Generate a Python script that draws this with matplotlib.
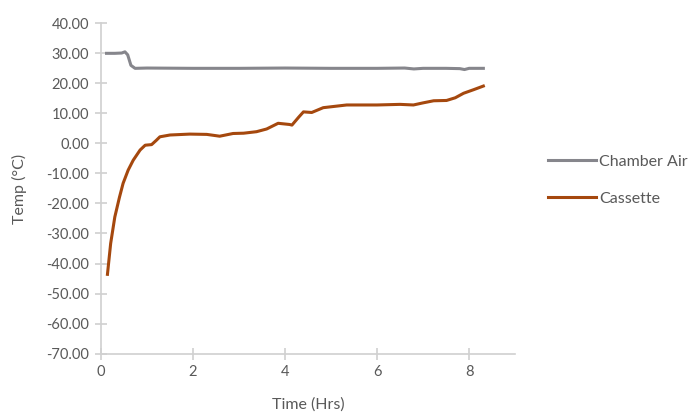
import matplotlib.pyplot as plt
import numpy as np

plt.rcParams['font.family'] = ['Lato', 'DejaVu Sans']

t_air = [0.12, 0.3, 0.45, 0.52, 0.58, 0.65, 0.74, 1.0, 2, 3, 4, 5, 6, 6.6, 6.8, 7.0, 7.5, 7.8, 7.9, 8.0, 8.31]
air = [30.0, 30.0, 30.1, 30.5, 29.5, 26.0, 25.0, 25.1, 25.0, 25.0, 25.1, 25.0, 25.0, 25.1, 24.8, 25.0, 25.0, 24.9, 24.6, 25.0, 25.0]

t_cas = [0.14, 0.21, 0.30, 0.40, 0.48, 0.59, 0.70, 0.85, 0.96, 1.1, 1.2, 1.28, 1.5, 1.93, 2.3, 2.58,
         2.87, 3.1, 3.38, 3.6, 3.85, 4.1, 4.15, 4.3, 4.4, 4.58, 4.83, 5.34, 6.0, 6.5, 6.79, 7.0,
         7.23, 7.51, 7.7, 7.88, 8.1, 8.31]
cas = [-43.6, -33.3, -24.5, -18, -13.3, -8.9, -5.6, -2.2, -0.6, -0.4, 1.0, 2.2, 2.8, 3.1, 3.0, 2.4,
       3.3, 3.4, 3.9, 4.8, 6.7, 6.3, 6.1, 8.8, 10.5, 10.3, 11.9, 12.8, 12.8, 13.0, 12.8, 13.5,
       14.2, 14.3, 15.2, 16.7, 17.9, 19.1]

fig = plt.figure(figsize=(6.89, 4.16), dpi=100)
ax = fig.add_axes([0.1466, 0.150, 0.601, 0.794])

ax.plot(t_air, air, color='#86868c', lw=2.2, label='Chamber Air', solid_joinstyle='round')
ax.plot(t_cas, cas, color='#a5480e', lw=2.2, label='Cassette', solid_joinstyle='round')

ax.set_xlim(0, 9)
ax.set_ylim(-70, 40)
ax.set_xticks([0, 2, 4, 6, 8])
ax.set_yticks(np.arange(-70, 41, 10))
ax.set_yticklabels(['%.2f' % v for v in np.arange(-70, 41, 10)])

for s in ['top', 'right']:
    ax.spines[s].set_visible(False)
for s in ['left', 'bottom']:
    ax.spines[s].set_color('#d0d0d0')
    ax.spines[s].set_linewidth(1.2)
ax.tick_params(direction='inout', length=9, width=1.2, color='#d0d0d0',
               labelcolor='#595959', labelsize=10.5, pad=4)

ax.set_xlabel('Time (Hrs)', color='#595959', fontsize=11.5, labelpad=13)
ax.set_ylabel('Temp (°C)', color='#595959', fontsize=11.5, labelpad=14)

fig.legend(loc='upper left', bbox_to_anchor=(0.774, 0.663), frameon=False,
           fontsize=11.5, labelcolor='#595959', handlelength=3.0, handletextpad=0.2,
           labelspacing=1.45)

fig.savefig('out.png')
